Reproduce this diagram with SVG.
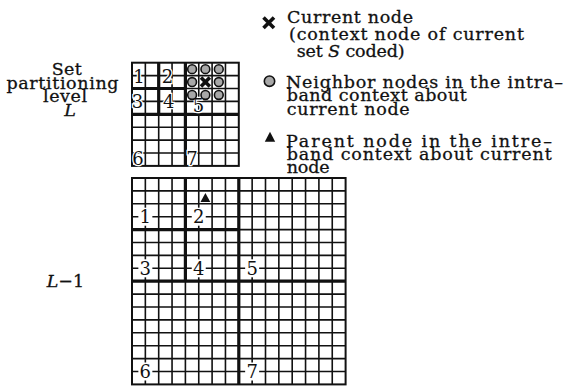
<svg xmlns="http://www.w3.org/2000/svg" width="566" height="387" viewBox="0 0 566 387">
<style>
.thin{fill:none;stroke:#111;stroke-width:1.6}
.thick{fill:none;stroke:#111;stroke-width:3.2}
.border{fill:none;stroke:#111;stroke-width:2}
.t{font-family:"DejaVu Serif","Liberation Serif",serif;font-size:17.5px;fill:#111;stroke:#111;stroke-width:0.3}
.d{font-family:"DejaVu Serif","Liberation Serif",serif;font-size:18px;fill:#111;text-anchor:middle}
.halo{stroke:#fff;stroke-width:2.5;paint-order:stroke}
.nb{fill:#a8a8a8;stroke:#111;stroke-width:1.6}
.x{stroke:#111;stroke-width:3.6;fill:none}
.it{font-style:italic}
</style>
<rect width="566" height="387" fill="#fff"/>

<g id="label-level-L">
<text class="t" x="66.7" y="74.5" text-anchor="middle" textLength="30">Set</text>
<text class="t" x="62.5" y="89" text-anchor="middle" textLength="112">partitioning</text>
<text class="t" x="65" y="102" text-anchor="middle" textLength="44">level</text>
<text class="t it" x="70" y="116" text-anchor="middle">L</text>
</g>

<g id="label-level-L-1">
<text class="t" x="46.7" y="286.7"><tspan class="it">L</tspan>−1</text>
</g>

<g id="grid-L">
<path class="thin" d="M145.35 62.7V165.9M158.7 62.7V165.9M172.05 62.7V165.9M185.4 62.7V165.9M198.75 62.7V165.9M212.1 62.7V165.9M225.45 62.7V165.9M132 75.6H238.8M132 88.5H238.8M132 101.4H238.8M132 114.3H238.8M132 127.2H238.8M132 140.1H238.8M132 153H238.8"/>
<rect class="border" x="132" y="62.7" width="106.8" height="103.2"/>
<path class="thick" d="M158.7 62.7V114.3M132 88.5H185.4M185.4 62.7V165.9M132 114.3H238.8"/>
<text class="d halo" x="139" y="83.3">1</text>
<text class="d halo" x="167.5" y="83.3">2</text>
<text class="d halo" x="137.5" y="108.3">3</text>
<text class="d halo" x="168.8" y="108.3">4</text>
<text class="d halo" x="198.5" y="112">5</text>
<text class="d halo" x="138" y="165">6</text>
<text class="d halo" x="192" y="165">7</text>
<g id="neighbors">
<circle class="nb" cx="192.1" cy="69.15" r="4.4"/>
<circle class="nb" cx="205.4" cy="69.15" r="4.4"/>
<circle class="nb" cx="218.8" cy="69.15" r="4.4"/>
<circle class="nb" cx="192.1" cy="82.05" r="4.4"/>
<circle class="nb" cx="218.8" cy="82.05" r="4.4"/>
<circle class="nb" cx="192.1" cy="94.95" r="4.4"/>
<circle class="nb" cx="205.4" cy="94.95" r="4.4"/>
<circle class="nb" cx="218.8" cy="94.95" r="4.4"/>
</g>
<path id="current-node" class="x" d="M201 77.6L209.8 86.5M209.8 77.6L201 86.5"/>
</g>

<g id="grid-L-1">
<path class="thin" d="M145.35 178V384.4M158.7 178V384.4M172.05 178V384.4M185.4 178V384.4M198.75 178V384.4M212.1 178V384.4M225.45 178V384.4M238.8 178V384.4M252.15 178V384.4M265.5 178V384.4M278.85 178V384.4M292.2 178V384.4M305.55 178V384.4M318.9 178V384.4M332.25 178V384.4M132 190.9H345.6M132 203.8H345.6M132 216.7H345.6M132 229.6H345.6M132 242.5H345.6M132 255.4H345.6M132 268.3H345.6M132 281.2H345.6M132 294.1H345.6M132 307H345.6M132 319.9H345.6M132 332.8H345.6M132 345.7H345.6M132 358.6H345.6M132 371.5H345.6"/>
<rect class="border" x="132" y="178" width="213.6" height="206.4"/>
<path class="thick" d="M185.4 178V281.2M132 229.6H238.8M238.8 178V384.4M132 281.2H345.6"/>
<g fill="#fff">
<rect x="138.35" y="207.7" width="14" height="18"/>
<rect x="191.75" y="207.7" width="14" height="18"/>
<rect x="138.35" y="259.3" width="14" height="18"/>
<rect x="191.75" y="259.3" width="14" height="18"/>
<rect x="245.15" y="259.3" width="14" height="18"/>
<rect x="138.35" y="362.5" width="14" height="18"/>
<rect x="245.15" y="362.5" width="14" height="18"/>
</g>
<text class="d" x="145.35" y="223.2">1</text>
<text class="d" x="198.75" y="223.2">2</text>
<text class="d" x="145.35" y="274.8">3</text>
<text class="d" x="198.75" y="274.8">4</text>
<text class="d" x="252.15" y="274.8">5</text>
<text class="d" x="145.35" y="378">6</text>
<text class="d" x="252.15" y="378">7</text>
<path id="parent-node" d="M205.4 193L210.3 202H200.5Z" fill="#111"/>
</g>

<g id="legend-current">
<path class="x" d="M263.5 17.5L274 28M274 17.5L263.5 28"/>
<text class="t" x="287" y="22.5" textLength="126">Current node</text>
<text class="t" x="289" y="39.5" textLength="235">(context node of current</text>
<text class="t" x="296.7" y="56.5" textLength="108">set <tspan class="it">S</tspan> coded)</text>
</g>

<g id="legend-neighbor">
<circle class="nb" cx="269.5" cy="81.2" r="5.2"/>
<text class="t" x="286" y="87.5" textLength="277">Neighbor nodes in the intra–</text>
<text class="t" x="286.7" y="101" textLength="180">band context about</text>
<text class="t" x="286.7" y="114.5" textLength="123">current node</text>
</g>

<g id="legend-parent">
<path d="M270 131.7L275.2 141.7H264.8Z" fill="#111"/>
<text class="t" x="286" y="146.7" textLength="266">Parent node in the intre–</text>
<text class="t" x="286.7" y="159.7" textLength="265">band context about current</text>
<text class="t" x="286.7" y="172.5" textLength="43">node</text>
</g>
</svg>
